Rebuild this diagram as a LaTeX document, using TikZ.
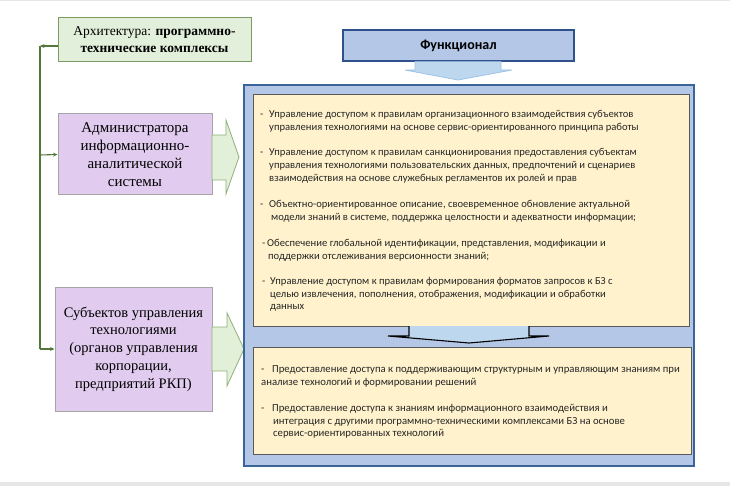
\documentclass[tikz,border=0pt]{standalone}
\usepackage{fontspec}
\usetikzlibrary{arrows.meta}
\setmainfont{Liberation Serif}
\newfontfamily\calfont{Carlito}
\begin{document}
\begin{tikzpicture}[x=1pt,y=-1pt,
  archbox/.style={draw=archline,fill=archfill,line width=1pt,inner sep=0pt,align=center,
    font=\fontsize{13.5}{17}\selectfont},
  lavbox/.style={draw=lavline,fill=lavfill,line width=1pt,inner sep=0pt,align=center},
  funcbox/.style={draw=funcline,fill=bluefill,line width=1.8pt,inner sep=0pt,
    font=\calfont\bfseries\fontsize{14}{16}\selectfont},
  bigbox/.style={draw=bigline,fill=bluefill,line width=2pt},
  yelbox/.style={draw=yelline,fill=yelfill,line width=0.9pt},
  greenarrow/.style={draw=garrline,fill=garrfill,line width=0.8pt},
  toparrow/.style={draw=tarrline,fill=tarrfill,line width=0.8pt},
  midarrow/.style={draw=black,fill=tarrfill,line width=1.1pt},
  conn/.style={draw=connline,line width=1.1pt},
  connarrow/.style={conn,-{Stealth[length=4.5pt,width=4pt]}},
  txt/.style={anchor=base west,inner sep=0pt,font=\calfont\fontsize{10.6}{12}\selectfont,text=black!85},
  txtb/.style={txt,font=\calfont\fontsize{10.7}{12}\selectfont}
]
\definecolor{archfill}{HTML}{E2EFDA}
\definecolor{archline}{HTML}{7A9C64}
\definecolor{lavfill}{HTML}{E1CCF0}
\definecolor{lavline}{HTML}{A5A5A5}
\definecolor{bluefill}{HTML}{B4C7E7}
\definecolor{funcline}{HTML}{2F528F}
\definecolor{bigline}{HTML}{3A6598}
\definecolor{yelfill}{HTML}{FFF2CC}
\definecolor{yelline}{HTML}{595959}
\definecolor{garrfill}{HTML}{E2F0D9}
\definecolor{garrline}{HTML}{8FB07A}
\definecolor{tarrfill}{HTML}{BDD7EE}
\definecolor{tarrline}{HTML}{9DC3E6}
\definecolor{connline}{HTML}{54773E}
\definecolor{bandgray}{HTML}{E6E6E6}

\useasboundingbox (0,0) rectangle (730,486);
\fill[bandgray] (0,0) rectangle (730,1.5);
\fill[bandgray] (0,482) rectangle (730,486);

% left boxes
\node[archbox,minimum width=193,minimum height=44] (arch) at (154.5,40)
  {Архитектура: \textbf{программно-}\\\textbf{технические комплексы}};
\node[lavbox,minimum width=154,minimum height=81,font=\fontsize{15}{18}\selectfont] (admin) at (135,154.5)
  {Администратора\\информационно-\\аналитической\\системы};
\node[lavbox,minimum width=157,minimum height=124,font=\fontsize{14.5}{17.8}\selectfont] (subj) at (133.5,349)
  {Субъектов управления\\технологиями\\(органов управления\\корпорации,\\предприятий РКП)};

% left connectors
\coordinate (v1) at (40,46);
\coordinate (v2) at (40,155);
\coordinate (v3) at (40,349);
\draw[conn] (v1) -- (v3);
\draw[connarrow] ([yshift=-6pt]arch.west) -- (v1);
\draw[connarrow] (v2) -- (admin.west);
\draw[connarrow] (v3) -- (subj.west);

% green block arrows
\draw[greenarrow] (212,135) -- (226,135) -- (226,120) -- (239,157) -- (226,194) -- (226,180) -- (212,180) -- cycle;
\draw[greenarrow] (212,327) -- (227,327) -- (227,313) -- (244,349) -- (227,386) -- (227,371) -- (212,371) -- cycle;

% Функционал
\node[funcbox,minimum width=231,minimum height=31] (func) at (458.5,45.5) {Функционал};
\draw[toparrow] (415,61.5) -- (415,70) -- (405,70) -- (458,80) -- (512,70) -- (501,70) -- (501,61.5);

% big box and panels
\draw[bigbox] (244,85) rectangle (694,466);
\draw[yelbox] (253,94) rectangle (689,326);
\draw[yelbox] (253,347) rectangle (691,454);
\draw[midarrow] (409,326) -- (409,336) -- (388,336) -- (469,343) -- (549,336) -- (529,336) -- (529,326);

% top panel text
\node[txt] (a1) at (260,117.5) {\makebox[9pt][l]{-}Управление доступом к правилам организационного взаимодействия субъектов};
\node[txt] (a2) at (269,130.5) {управления технологиями на основе сервис-ориентированного принципа работы};
\node[txt] (b1) at (260,155.5) {\makebox[9pt][l]{-}Управление доступом к правилам санкционирования предоставления субъектам};
\node[txt] (b2) at (269,168.5) {управления технологиями пользовательских данных, предпочтений и сценариев};
\node[txt] (b3) at (269,181.5) {взаимодействия на основе служебных регламентов их ролей и прав};
\node[txt] (c1) at (260,207.5) {\makebox[9pt][l]{-}Объектно-ориентированное описание, своевременное обновление актуальной};
\node[txt] (c2) at (271,220.5) {модели знаний в системе, поддержка целостности и адекватности информации;};
\node[txt] (d1) at (262,246.5) {\makebox[5pt][l]{-}Обеспечение глобальной идентификации, представления, модификации и};
\node[txt] (d2) at (268,259) {поддержки отслеживания версионности знаний;};
\node[txt] (e1) at (262,284.5) {\makebox[8pt][l]{-}Управление доступом к правилам формирования форматов запросов к БЗ с};
\node[txt] (e2) at (270,297) {целью извлечения, пополнения, отображения, модификации и обработки};
\node[txt] (e3) at (270,309.5) {данных};

% bottom panel text
\node[txtb] (f1) at (261,372.5) {\makebox[11pt][l]{-}Предоставление доступа к поддерживающим структурным и управляющим знаниям при};
\node[txtb] (f2) at (261,385.5) {анализе технологий и формировании решений};
\node[txtb] (g1) at (261,411) {\makebox[11pt][l]{-}Предоставление доступа к знаниям информационного взаимодействия и};
\node[txtb] (g2) at (273,424) {интеграция с другими программно-техническими комплексами БЗ на основе};
\node[txtb] (g3) at (273,436.5) {сервис-ориентированных технологий};
\end{tikzpicture}
\end{document}
